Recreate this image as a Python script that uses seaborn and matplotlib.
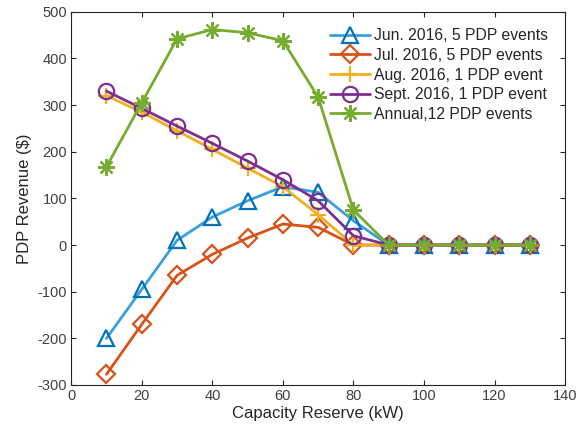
import pandas as pd
import seaborn as sns
import matplotlib
matplotlib.use("Agg")
import matplotlib.pyplot as plt

# capacity reserve (kW)
capacity = [10, 20, 30, 40, 50, 60, 70, 80, 90, 100, 110, 120, 130]

# PDP revenue ($) per scenario
jun = [-200, -95, 10, 60, 95, 125, 113, 52, 0, 0, 0, 0, 0]
jul = [-277, -170, -65, -20, 15, 45, 38, 0, 0, 0, 0, 0, 0]
aug = [320, 285, 245, 205, 165, 125, 65, 0, 0, 0, 0, 0, 0]
sept = [330, 293, 255, 218, 180, 140, 95, 20, 0, 0, 0, 0, 0]
annual = [168, 305, 442, 462, 455, 438, 317, 75, 0, 0, 0, 0, 0]

labels = ["Jun. 2016, 5 PDP events", "Jul. 2016, 5 PDP events",
          "Aug. 2016, 1 PDP event", "Sept. 2016, 1 PDP event",
          "Annual,12 PDP events"]

series = [jun, jul, aug, sept, annual]
line_colors = ["#3A9FDD", "#D95319", "#EDB120", "#7E2F8E", "#77AC30"]
edge_colors = ["#0072BD", "#D95319", "#EDB120", "#7E2F8E", "#77AC30"]
markers = ["^", "D", "+", "o", (8, 2, 0)]
msizes = [11, 9, 12, 11, 12]

rows = []
for lab, vals in zip(labels, series):
    for x, y in zip(capacity, vals):
        rows.append({"Capacity Reserve (kW)": x, "PDP Revenue ($)": y, "series": lab})
df = pd.DataFrame(rows)

sns.set_style("ticks")
plt.rcParams["font.family"] = ["Liberation Sans", "DejaVu Sans"]
plt.rcParams["axes.unicode_minus"] = False

fig = plt.figure(figsize=(5.79, 4.37), dpi=100)
ax = fig.add_axes([0.123, 0.119, 0.853, 0.854])

for lab, lc, ec, m, ms in zip(labels, line_colors, edge_colors, markers, msizes):
    sub = df[df["series"] == lab]
    sns.lineplot(data=sub, x="Capacity Reserve (kW)", y="PDP Revenue ($)", ax=ax,
                 color=lc, marker=m, markersize=ms, markerfacecolor="none",
                 markeredgecolor=ec, markeredgewidth=1.6, linewidth=2, label=lab)

ax.set_xlim(0, 140)
ax.set_ylim(-300, 500)
ax.set_xticks(range(0, 141, 20))
ax.set_yticks(range(-300, 501, 100))
ax.tick_params(direction="in", labelsize=10.5, colors="#262626", labelcolor="#404040",
               top=True, right=True, pad=3)
ax.set_xlabel("Capacity Reserve (kW)", fontsize=12, color="#262626", labelpad=2)
ax.set_ylabel("PDP Revenue ($)", fontsize=12, color="#262626")
for s in ax.spines.values():
    s.set_visible(True)
    s.set_color("#262626")
    s.set_linewidth(0.8)

leg = ax.legend(loc="upper right", frameon=False, fontsize=11.3,
                handlelength=2.5, handletextpad=0.25, labelspacing=0.3,
                borderaxespad=0.4, bbox_to_anchor=(0.99, 0.99))

fig.savefig("out.png", dpi=100)
